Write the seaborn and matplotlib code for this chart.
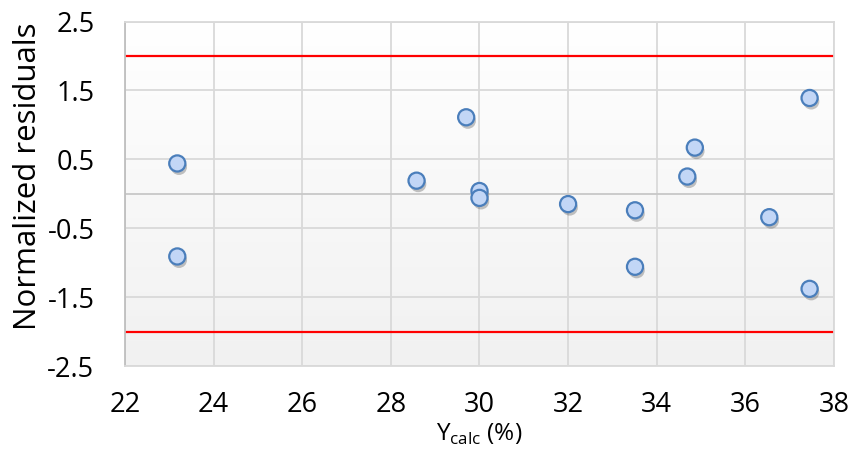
import numpy as np
import pandas as pd
import matplotlib
matplotlib.use("Agg")
import matplotlib.pyplot as plt
import matplotlib.patheffects as pe
import seaborn as sns

# Calculated yield (%) and normalized residual for each experiment
y_calc = [23.18, 23.18, 28.58, 29.70, 30.00, 30.00, 32.00,
          33.51, 33.51, 34.69, 34.86, 36.54, 37.45, 37.45]
residuals = [0.44, -0.91, 0.19, 1.11, 0.04, -0.06, -0.15,
             -0.24, -1.06, 0.25, 0.67, -0.34, 1.39, -1.38]

# Acceptance limits
limits = [2.0, -2.0]

x_ticks = [22, 24, 26, 28, 30, 32, 34, 36, 38]
y_ticks = [-2.5, -1.5, -0.5, 0.5, 1.5, 2.5]

df = pd.DataFrame({"ycalc": y_calc, "res": residuals})

sns.set_theme(style="white")
plt.rcParams["font.family"] = ["Open Sans", "DejaVu Sans"]
plt.rcParams["mathtext.fontset"] = "custom"
plt.rcParams["mathtext.rm"] = "Open Sans"

fig = plt.figure(figsize=(8.55, 4.55), dpi=100)
ax = fig.add_axes([0.1462, 0.1956, 0.8292, 0.7571])

ax.set_xlim(x_ticks[0], x_ticks[-1])
ax.set_ylim(y_ticks[0], y_ticks[-1])

# Plot-area background: soft vertical gradient, white at the top, light gray at the bottom
grad = np.linspace(1, 0, 256).reshape(-1, 1)
cmap = matplotlib.colors.LinearSegmentedColormap.from_list("bg", ["#ffffff", "#f1f1f1"])
ax.imshow(grad, extent=[x_ticks[0], x_ticks[-1], y_ticks[0], y_ticks[-1]],
          aspect="auto", cmap=cmap, zorder=0, origin="lower")

# Grid
for xv in x_ticks:
    ax.axvline(xv, color="#d9d9d9", lw=1.3, zorder=1)
for yv in y_ticks:
    ax.axhline(yv, color="#d9d9d9", lw=1.3, zorder=1)
ax.axhline(0, color="#c8c8c8", lw=1.3, zorder=1)

# Limit lines
for lv in limits:
    ax.axhline(lv, color="#ff0000", lw=1.6, zorder=2)

sns.scatterplot(data=df, x="ycalc", y="res", ax=ax, s=135,
                color="#c2d6f6", edgecolor="#4a7ebb", linewidth=1.6,
                zorder=4, legend=False)
coll = ax.collections[-1]
coll.set_path_effects([pe.SimplePatchShadow(offset=(1.2, -2.5), shadow_rgbFace="#555555", alpha=0.35),
                       pe.Normal()])

for side in ["top", "right", "bottom"]:
    ax.spines[side].set_color("#d9d9d9")
    ax.spines[side].set_linewidth(1.3)
ax.spines["left"].set_color("#bfbfbf")
ax.spines["left"].set_linewidth(1.3)

ax.set_xticks(x_ticks)
ax.set_yticks(y_ticks)
ax.set_xticklabels([str(v) for v in x_ticks])
ax.set_yticklabels([f"{v:.1f}" for v in y_ticks])
ax.tick_params(axis="x", length=0, pad=18, labelsize=19.5, colors="black")
ax.tick_params(axis="y", length=0, pad=22, labelsize=19.5, colors="black")

ax.set_xlabel(r"Y$_{\mathregular{calc}}$ (%)", fontsize=17.5, color="black")
ax.set_ylabel("Normalized residuals", fontsize=22.5, color="black")
ax.xaxis.set_label_coords(0.5, -0.163)
ax.yaxis.set_label_coords(-0.116, 0.55)

fig.savefig("out.png", dpi=100)
